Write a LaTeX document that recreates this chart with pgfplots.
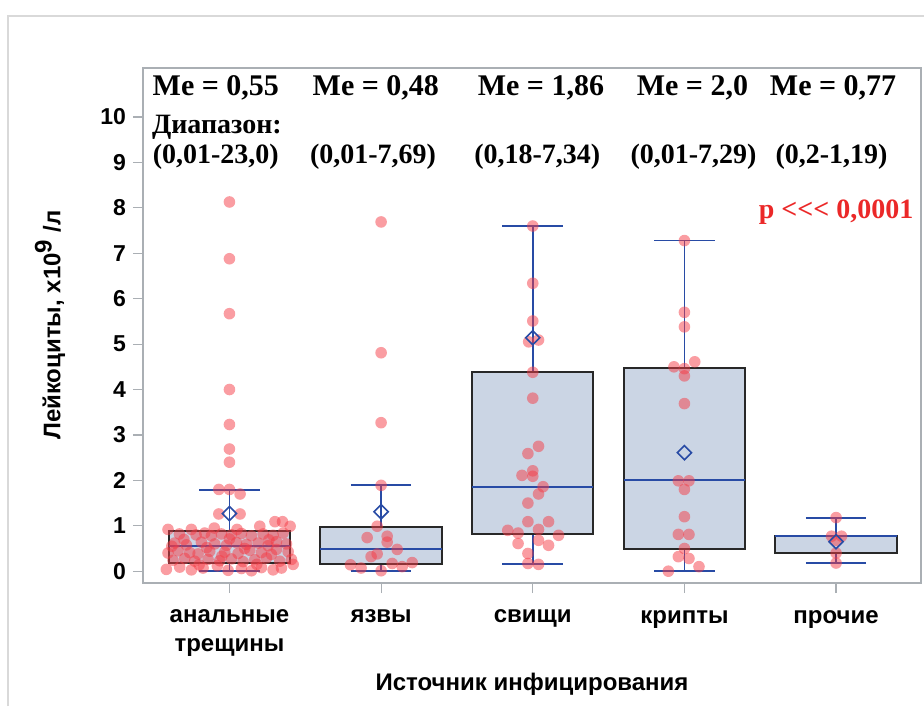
\documentclass[border=0pt]{standalone}
\usepackage{fontspec}
\setmainfont{Liberation Sans}
\newfontfamily\tnr{Liberation Serif}
\usepackage{pgfplots}
\usepackage{pgfplotstable}
\pgfplotsset{compat=1.18}
\usepgfplotslibrary{statistics}
\definecolor{boxfill}{RGB}{203,213,228}
\definecolor{boxdraw}{RGB}{40,40,40}
\definecolor{blueline}{RGB}{40,75,165}
\definecolor{pointred}{RGB}{245,60,70}
\definecolor{axisgray}{RGB}{170,175,180}
\definecolor{pred}{RGB}{235,40,40}

% group 1: анальные трещины (offsets from category 0)
\pgfplotstableread{
dx y
0 8.13
0 6.88
0 5.67
0 4.00
0 3.23
0 2.69
0 2.40
-0.07 1.80
0 1.80
0.07 1.70
-0.07 1.26
0.07 1.26
-0.405 0.92
-0.251 0.92
0.20 0.99
0.30 1.09
0.35 1.09
0.40 0.99
-0.33 0.82
-0.22 0.80
-0.163 0.84
-0.119 0.78
-0.053 0.82
0.013 0.80
0.079 0.83
0.145 0.78
0.222 0.82
0.288 0.79
0.354 0.84
-0.361 0.62
-0.284 0.58
-0.185 0.64
-0.097 0.60
-0.020 0.57
0.046 0.63
0.112 0.59
0.189 0.62
0.255 0.56
0.310 0.65
0.376 0.60
-0.405 0.40
-0.339 0.45
-0.262 0.41
-0.207 0.38
-0.130 0.44
-0.031 0.42
0.057 0.39
0.134 0.46
0.211 0.41
0.277 0.37
0.387 0.43
-0.372 0.24
-0.295 0.28
-0.229 0.22
-0.141 0.26
-0.064 0.23
0.013 0.27
0.090 0.21
0.167 0.25
0.244 0.29
0.332 0.22
0.409 0.26
-0.416 0.04
-0.328 0.09
-0.251 0.03
-0.174 0.07
-0.009 0.02
0.079 0.06
0.145 0.01
0.211 0.08
0.288 0.03
0.343 0.07
-0.30 0.70
-0.15 0.52
0.0 0.71
0.10 0.50
0.26 0.69
-0.05 0.33
0.18 0.15
-0.20 0.14
0.31 0.48
-0.38 0.55
0.05 0.92
-0.10 0.95
0.42 0.15
-0.08 0.12
}\ptsA

% group 2: язвы
\pgfplotstableread{
dx y
0 7.69
0 4.81
0 3.27
0 1.89
-0.026 0.99
-0.092 0.74
0.04 0.77
0.04 0.64
0.106 0.48
-0.026 0.38
-0.066 0.32
-0.202 0.14
-0.132 0.07
0.073 0.17
0.139 0.10
0.205 0.19
0 0.01
}\ptsB

% group 3: свищи
\pgfplotstableread{
dx y
0 7.60
0 6.34
0 5.51
-0.027 5.05
0.038 5.09
0 4.38
0 3.81
0.038 2.75
-0.032 2.59
0 2.21
-0.071 2.11
0 2.09
0.068 1.86
0.038 1.70
-0.032 1.50
-0.032 1.09
0.104 1.09
0.038 0.92
-0.165 0.90
-0.097 0.84
0.170 0.79
-0.097 0.61
0.038 0.68
0.104 0.57
-0.032 0.39
-0.032 0.17
0.038 0.15
}\ptsC

% group 4: крипты
\pgfplotstableread{
dx y
0 7.28
0 5.70
0 5.38
-0.069 4.50
0 4.46
0.068 4.61
0 4.30
0 3.69
-0.04 1.99
0.03 1.99
0 1.80
0 1.20
-0.04 0.81
0.03 0.81
0 0.50
-0.04 0.32
0.03 0.28
0.096 0.10
-0.106 0.0
}\ptsD

% group 5: прочие
\pgfplotstableread{
dx y
0 1.18
-0.03 0.77
0.036 0.77
0 0.68
0 0.40
0 0.18
}\ptsE

\begin{document}
\begin{tikzpicture}
\useasboundingbox (-71.5pt,-61.5pt) rectangle (390.5pt,291.5pt);
\begin{axis}[
  at={(0pt,0pt)}, anchor=south west,
  scale only axis, width=389pt, height=257.5pt,
  xmin=-0.57, xmax=4.56, ymin=-0.26, ymax=11.08,
  xtick={0,1,2,3,4},
  xticklabels={{анальные\\трещины},язвы,свищи,крипты,прочие},
  ytick={0,1,2,3,4,5,6,7,8,9,10},
  tick align=outside, xtick pos=left, ytick pos=left,
  major tick length=5pt,
  axis line style={draw=axisgray, line width=0.8pt},
  tick style={draw=axisgray, line width=0.6pt},
  /pgf/number format/assume math mode=true,
  yticklabel style={font=\bfseries\fontsize{11.5}{13}\selectfont},
  xticklabel style={align=center, yshift=-5pt, font=\bfseries\fontsize{12}{14.5}\selectfont},
  xlabel={Источник инфицирования},
  ylabel={Лейкоциты, х10\textsuperscript{\fontsize{12}{12}\selectfont 9} /л},
  label style={font=\bfseries\fontsize{12}{14}\selectfont},
  xlabel style={at={(axis description cs:0.5,-0.1961)}, anchor=center},
  ylabel style={at={(axis description cs:-0.1195,0.501)}, anchor=center},
  clip=false,
  boxplot/draw direction=y,
  boxplot/every box/.style={draw=boxdraw, fill=boxfill, line width=1pt},
  boxplot/every whisker/.style={draw=blueline, line width=0.9pt},
  boxplot/every median/.style={draw=blueline, line width=0.9pt},
  pts/.style={only marks, mark=*, mark size=2.9pt, color=pointred,
    mark options={draw opacity=0, fill=pointred, fill opacity=0.5}},
]
\addplot[draw=boxdraw, fill=boxfill, boxplot prepared={draw position=0, lower whisker=0.0, lower quartile=0.18, median=0.55, upper quartile=0.89, upper whisker=1.79, box extend=0.8, whisker extend=0.4}] coordinates {};
\addplot[draw=boxdraw, fill=boxfill, boxplot prepared={draw position=1, lower whisker=0.01, lower quartile=0.15, median=0.48, upper quartile=0.98, upper whisker=1.89, box extend=0.8, whisker extend=0.4}] coordinates {};
\addplot[draw=boxdraw, fill=boxfill, boxplot prepared={draw position=2, lower whisker=0.15, lower quartile=0.83, median=1.86, upper quartile=4.38, upper whisker=7.60, box extend=0.8, whisker extend=0.4}] coordinates {};
\addplot[draw=boxdraw, fill=boxfill, boxplot prepared={draw position=3, lower whisker=0.0, lower quartile=0.48, median=2.0, upper quartile=4.48, upper whisker=7.28, box extend=0.8, whisker extend=0.4}] coordinates {};
\addplot[draw=boxdraw, fill=boxfill, boxplot prepared={draw position=4, lower whisker=0.18, lower quartile=0.40, median=0.77, upper quartile=0.78, upper whisker=1.18, box extend=0.8, whisker extend=0.4}] coordinates {};

\addplot[pts] table[x expr=\thisrow{dx}+0, y=y] {\ptsA};
\addplot[pts] table[x expr=\thisrow{dx}+1, y=y] {\ptsB};
\addplot[pts] table[x expr=\thisrow{dx}+2, y=y] {\ptsC};
\addplot[pts] table[x expr=\thisrow{dx}+3, y=y] {\ptsD};
\addplot[pts] table[x expr=\thisrow{dx}+4, y=y] {\ptsE};

% means
\addplot[only marks, mark=square, mark size=2.5pt, mark options={draw=blueline, line width=0.8pt, fill=none, rotate=45}] coordinates {(0,1.27) (1,1.31) (2,5.14) (3,2.61) (4,0.65)};

\node[font=\tnr\bfseries\fontsize{15}{17}\selectfont] at (axis cs:-0.09,10.64) {Me = 0,55};
\node[font=\tnr\bfseries\fontsize{15}{17}\selectfont] at (axis cs:0.965,10.64) {Me = 0,48};
\node[font=\tnr\bfseries\fontsize{15}{17}\selectfont] at (axis cs:2.054,10.64) {Me = 1,86};
\node[font=\tnr\bfseries\fontsize{15}{17}\selectfont] at (axis cs:3.053,10.64) {Me = 2,0};
\node[font=\tnr\bfseries\fontsize{15}{17}\selectfont] at (axis cs:3.98,10.64) {Me = 0,77};
\node[anchor=west, inner sep=0pt, font=\tnr\bfseries\fontsize{14}{16}\selectfont] at (axis cs:-0.513,9.78) {Диапазон:};
\node[font=\tnr\bfseries\fontsize{14}{16}\selectfont] at (axis cs:-0.09,9.12) {(0,01-23,0)};
\node[font=\tnr\bfseries\fontsize{14}{16}\selectfont] at (axis cs:0.947,9.12) {(0,01-7,69)};
\node[font=\tnr\bfseries\fontsize{14}{16}\selectfont] at (axis cs:2.03,9.12) {(0,18-7,34)};
\node[font=\tnr\bfseries\fontsize{14}{16}\selectfont] at (axis cs:3.06,9.12) {(0,01-7,29)};
\node[font=\tnr\bfseries\fontsize{14}{16}\selectfont] at (axis cs:3.97,9.12) {(0,2-1,19)};
\node[text=pred, font=\tnr\bfseries\fontsize{14}{16}\selectfont] at (axis cs:4.0,7.91) {p <<< 0,0001};
\end{axis}
\draw[gray!30, line width=0.8pt] (-67.5pt,-61.5pt) -- (-67.5pt,283.5pt) -- (390.5pt,283.5pt);
\end{tikzpicture}
\end{document}
